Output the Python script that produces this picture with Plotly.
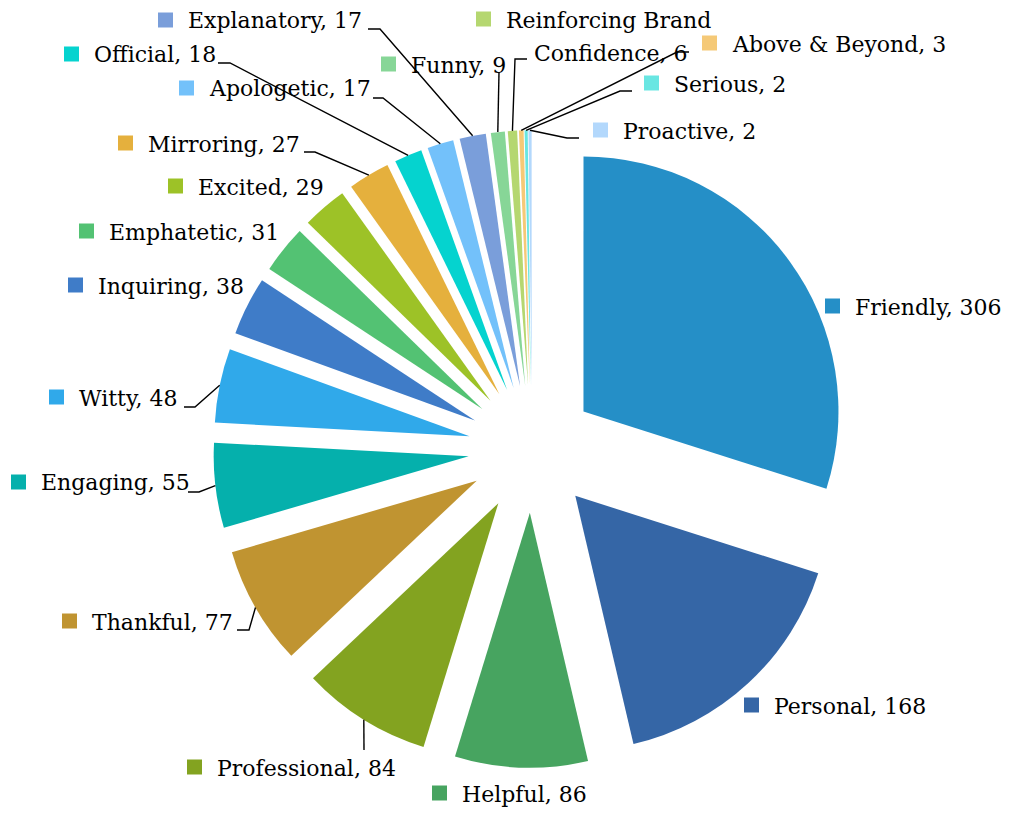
import math
import plotly.graph_objects as go

# ---------------- data ----------------
categories = ["Friendly", "Personal", "Helpful", "Professional", "Thankful",
              "Engaging", "Witty", "Inquiring", "Emphatetic", "Excited",
              "Mirroring", "Official", "Apologetic", "Explanatory", "Funny",
              "Reinforcing Brand", "Confidence", "Above & Beyond", "Serious",
              "Proactive"]
counts = [306, 168, 86, 84, 77, 55, 48, 38, 31, 29, 27, 18, 17, 17, 9, 0, 6, 3, 2, 2]
colors = ["#258FC7", "#3566A6", "#47A460", "#83A320", "#C09431",
          "#05B0AC", "#30A9EA", "#3F7CC8", "#53C273", "#9DC227",
          "#E5B03D", "#05D3CF", "#73C1FA", "#7A9EDA", "#87D697",
          "#B5D770", "#B5D770", "#F5C977", "#69E6E2", "#B3D8FC"]

# ---------------- layout (pixels) ----------------
W, H = 1013, 813
CX, CY, R, PULL = 532, 449, 255, 0.25
FONT = dict(family="DejaVu Serif", size=22, color="#000000")

# label text left edge / vertical centre
label_pos = {
    "Friendly": (853, 306), "Personal": (772, 705), "Helpful": (460, 793),
    "Professional": (215, 767), "Thankful": (90, 621), "Engaging": (39, 482),
    "Witty": (77, 397), "Inquiring": (96, 285), "Emphatetic": (107, 231),
    "Excited": (196, 186), "Mirroring": (146, 143), "Official": (92, 54),
    "Apologetic": (207, 88), "Explanatory": (186, 20), "Funny": (409, 64),
    "Reinforcing Brand": (504, 19), "Confidence": (532, 52),
    "Above & Beyond": (730, 43), "Serious": (672, 83), "Proactive": (621, 130),
}
no_marker = {"Confidence"}
# leader line: start point near label, elbow point
leaders = {
    "Explanatory": ((368, 29), (380, 29)),
    "Official": ((218, 63), (230, 63)),
    "Apologetic": ((373, 98), (383, 98)),
    "Mirroring": ((304, 152), (315, 152)),
    "Witty": ((184, 407), (195, 407)),
    "Engaging": ((188, 492), (199, 492)),
    "Thankful": ((237, 630), (249, 630)),
    "Professional": ((364, 750), (364, 750)),
    "Funny": ((499, 72), (499, 72)),
    "Confidence": ((527, 59), (515, 59)),
    "Above & Beyond": ((689, 52), (677, 52)),
    "Serious": ((632, 91), (620, 91)),
    "Proactive": ((579, 138), (567, 138)),
}


def px(x):
    return x / W


def py(y):
    return 1 - y / H


half = R * (1 + PULL)
fig = go.Figure(go.Pie(
    labels=categories, values=counts, sort=False, direction="clockwise",
    rotation=0, pull=PULL, textinfo="none", hoverinfo="label+value",
    marker=dict(colors=colors, line=dict(width=0)),
    domain=dict(x=[px(CX - half), px(CX + half)], y=[py(CY + half), py(CY - half)]),
    showlegend=False,
))

# anchors on the slices' outer edges (from data)
total = sum(counts)
cum = 0
anchors = {}
for name, v in zip(categories, counts):
    mid = (cum + v / 2) / total * 2 * math.pi
    cum += v
    anchors[name] = (CX + half * math.sin(mid), CY - half * math.cos(mid))

shapes = []
annotations = []
for name, v, col in zip(categories, counts, colors):
    lx, ly = label_pos[name]
    text = name if v == 0 else f"{name}, {v}"
    annotations.append(dict(x=px(lx), y=py(ly + 1), xref="paper", yref="paper",
                            text=text, showarrow=False, xanchor="left",
                            yanchor="middle", font=FONT))
    if name not in no_marker:
        shapes.append(dict(type="rect", xref="paper", yref="paper",
                           x0=px(lx - 28), x1=px(lx - 13),
                           y0=py(ly + 7.5), y1=py(ly - 7.5),
                           fillcolor=col, line=dict(width=0)))
    if name in leaders:
        (sx, sy), (bx, by) = leaders[name]
        ax, ay = anchors[name]
        path = (f"M {px(sx)},{py(sy)} L {px(bx)},{py(by)} "
                f"L {px(ax)},{py(ay)}")
        shapes.append(dict(type="path", xref="paper", yref="paper", path=path,
                           line=dict(color="#000000", width=1.4)))

fig.update_layout(width=W, height=H, autosize=False,
                  margin=dict(l=0, r=0, t=0, b=0),
                  paper_bgcolor="white", plot_bgcolor="white",
                  shapes=shapes, annotations=annotations)
fig.write_html("out.html", config={"displayModeBar": False},
               post_script="document.body.style.margin='0';"
                           "document.body.style.overflow='hidden';")
